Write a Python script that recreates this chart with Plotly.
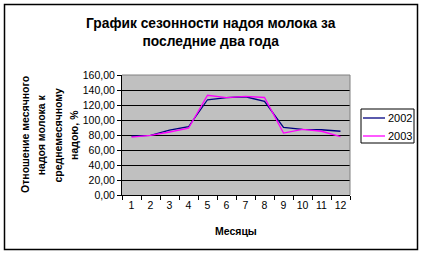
import plotly.graph_objects as go

months = ["1", "2", "3", "4", "5", "6", "7", "8", "9", "10", "11", "12"]
y2002 = [78.5, 79.5, 86.5, 91.0, 127.0, 129.8, 131.0, 125.0, 90.0, 87.5, 87.0, 85.0]
y2003 = [77.3, 79.5, 84.0, 89.0, 133.0, 129.8, 131.5, 130.0, 82.5, 87.5, 85.0, 77.8]
series_names = ["2002", "2003"]
series_colors = ["#000080", "#FF00FF"]
ytitle_lines = ["Отношение месячного", "надоя молока к", "среднемесячному", "надою, %"]

W, H = 423, 255
L, R, T, B = 122, 350, 75, 195
pw, ph = R - L, B - T

def px(x):
    return (x - L) / pw

def py(y):
    return (B - y) / ph

FONT = "Liberation Sans, Arial, sans-serif"

fig = go.Figure()
for name, ys, col in zip(series_names, [y2002, y2003], series_colors):
    fig.add_trace(go.Scatter(x=months, y=ys, mode="lines", name=name,
                             line=dict(color=col, width=1.3), showlegend=False))

fig.update_layout(
    width=W, height=H,
    margin=dict(l=L, r=W - R, t=T, b=H - B),
    paper_bgcolor="white",
    plot_bgcolor="#C0C0C0",
    separators=", ",
    font=dict(family=FONT, size=10, color="black"),
    showlegend=False,
    xaxis=dict(
        type="category", tickson="boundaries", ticks="outside", ticklen=4,
        tickcolor="black", showline=True, linecolor="black", linewidth=1,
        showgrid=False, zeroline=False, tickfont=dict(size=10.5, family=FONT),
        range=[-0.5, 11.5], tickangle=0, fixedrange=True,
    ),
    yaxis=dict(
        range=[0, 160], dtick=20, tickformat=".2f", ticks="outside", ticklen=4,
        tickcolor="black", showline=True, linecolor="black", linewidth=1,
        showgrid=True, gridcolor="black", gridwidth=1, zeroline=False,
        tickfont=dict(size=10.5, family=FONT),
    ),
)

# top & right plot border (gray)
fig.add_shape(type="line", xref="paper", yref="paper", x0=0, x1=1, y0=1, y1=1,
              line=dict(color="#808080", width=1))
fig.add_shape(type="line", xref="paper", yref="paper", x0=1, x1=1, y0=0, y1=1,
              line=dict(color="#808080", width=1))
# outer chart border
fig.add_shape(type="rect", xref="paper", yref="paper",
              x0=px(4.5), x1=px(417.5), y0=py(249.5), y1=py(4.5),
              line=dict(color="black", width=1.5))

# legend (drawn manually to match compact box)
fig.add_shape(type="rect", xref="paper", yref="paper",
              x0=px(361), x1=px(414), y0=py(143), y1=py(109),
              line=dict(color="black", width=1), fillcolor="white")
for i, (name, col) in enumerate(zip(series_names, series_colors)):
    yy = 118 + 18 * i
    fig.add_shape(type="line", xref="paper", yref="paper",
                  x0=px(363), x1=px(385), y0=py(yy), y1=py(yy),
                  line=dict(color=col, width=1.3))
    fig.add_annotation(text=name, xref="paper", yref="paper", x=px(386), y=py(yy),
                       xanchor="left", yanchor="middle", showarrow=False,
                       font=dict(size=11, family=FONT))

fig.add_annotation(text="<b>График сезонности надоя молока за<br>последние два года</b>",
                   xref="paper", yref="paper", x=px(211), y=py(33), xanchor="center",
                   yanchor="middle", showarrow=False, font=dict(size=13.8, family=FONT),
                   align="center")
for i, line in enumerate(ytitle_lines):
    fig.add_annotation(text="<b>" + line + "</b>", xref="paper", yref="paper",
                       x=px(25 + 16.3 * i), y=py(135), xanchor="center",
                       yanchor="middle", showarrow=False, textangle=-90,
                       font=dict(size=10.5, family=FONT))
fig.add_annotation(text="<b>Месяцы</b>", xref="paper", yref="paper",
                   x=px(236), y=py(231), xanchor="center", yanchor="middle",
                   showarrow=False, font=dict(size=10.5, family=FONT))

fig.write_html("out.html")
